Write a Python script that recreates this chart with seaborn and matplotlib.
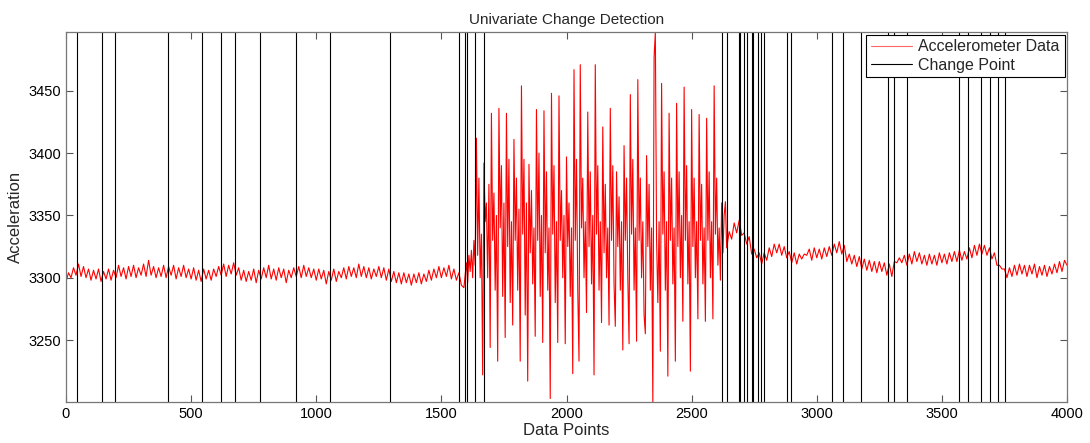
import numpy as np
import matplotlib
matplotlib.use("Agg")
import matplotlib.pyplot as plt
import seaborn as sns

# ---- data ----
# quiet segment, samples 0..1590 every 10
seg_a = [
    3297, 3304, 3300, 3308, 3302, 3311, 3301, 3309, 3300, 3307,
    3298, 3306, 3299, 3307, 3297, 3305, 3299, 3307, 3298, 3306,
    3300, 3310, 3301, 3308, 3299, 3309, 3301, 3310, 3300, 3308,
    3302, 3311, 3301, 3314, 3302, 3309, 3300, 3308, 3301, 3310,
    3300, 3309, 3302, 3310, 3299, 3308, 3301, 3310, 3300, 3307,
    3299, 3308, 3298, 3306, 3297, 3307, 3299, 3306, 3298, 3307,
    3301, 3309, 3302, 3311, 3301, 3310, 3303, 3312, 3302, 3308,
    3298, 3306, 3297, 3305, 3298, 3307, 3296, 3306, 3299, 3308,
    3300, 3310, 3299, 3307, 3298, 3308, 3300, 3307, 3296, 3306,
    3300, 3308, 3301, 3309, 3300, 3310, 3301, 3308, 3300, 3307,
    3298, 3307, 3299, 3306, 3295, 3305, 3298, 3307, 3297, 3305,
    3300, 3308, 3299, 3309, 3301, 3308, 3300, 3311, 3301, 3309,
    3300, 3308, 3299, 3307, 3301, 3309, 3300, 3308, 3298, 3307,
    3297, 3305, 3296, 3304, 3295, 3304, 3296, 3303, 3294, 3303,
    3296, 3304, 3295, 3303, 3297, 3306, 3298, 3307, 3300, 3309,
    3300, 3308, 3301, 3310, 3299, 3307, 3298, 3304, 3294, 3292,
]
# oscillating segment, samples 1600..2635 every 5
seg_b = [
    3312, 3296, 3318, 3305, 3322, 3300, 3330, 3310, 3412, 3318,
    3380, 3300, 3335, 3222, 3392, 3345, 3360, 3300, 3375, 3244,
    3432, 3330, 3368, 3290, 3350, 3233, 3436, 3340, 3390, 3285,
    3360, 3252, 3432, 3325, 3395, 3280, 3345, 3262, 3411, 3330,
    3380, 3290, 3355, 3233, 3454, 3335, 3395, 3270, 3360, 3217,
    3391, 3320, 3370, 3295, 3340, 3253, 3435, 3330, 3400, 3285,
    3350, 3248, 3434, 3320, 3385, 3290, 3340, 3203, 3448, 3335,
    3390, 3280, 3345, 3248, 3446, 3330, 3370, 3300, 3350, 3247,
    3397, 3325, 3360, 3285, 3340, 3223, 3467, 3330, 3395, 3290,
    3233, 3471, 3340, 3380, 3300, 3345, 3272, 3433, 3325, 3385,
    3295, 3350, 3222, 3471, 3335, 3390, 3290, 3345, 3264, 3421,
    3320, 3375, 3300, 3340, 3262, 3436, 3330, 3390, 3295, 3261,
    3385, 3325, 3365, 3290, 3345, 3242, 3406, 3330, 3380, 3300,
    3247, 3447, 3335, 3395, 3290, 3340, 3249, 3459, 3330, 3380,
    3300, 3345, 3270, 3255, 3398, 3325, 3375, 3290, 3340, 3200,
    3477, 3497, 3330, 3280, 3345, 3241, 3456, 3335, 3385, 3290,
    3345, 3221, 3432, 3330, 3380, 3295, 3340, 3233, 3440, 3325,
    3385, 3300, 3350, 3265, 3453, 3330, 3390, 3295, 3345, 3225,
    3435, 3325, 3380, 3300, 3345, 3267, 3431, 3330, 3375, 3295,
    3340, 3265, 3428, 3330, 3385, 3300, 3345, 3267, 3454, 3335,
    3380, 3310, 3340, 3298, 3360, 3320, 3350, 3361,
]
# settling segment, samples 2640..4000 every 10
seg_c = [
    3324, 3337, 3331, 3344, 3336, 3346, 3334, 3336, 3327, 3333,
    3319, 3323, 3316, 3320, 3311, 3320, 3314, 3324, 3317, 3327,
    3320, 3327, 3318, 3325, 3316, 3321, 3312, 3320, 3311, 3319,
    3315, 3319, 3318, 3323, 3314, 3324, 3316, 3323, 3315, 3324,
    3317, 3325, 3318, 3327, 3320, 3329, 3319, 3326, 3313, 3319,
    3311, 3318, 3309, 3317, 3307, 3315, 3306, 3314, 3305, 3313,
    3304, 3313, 3305, 3312, 3302, 3311, 3301, 3313, 3312, 3316,
    3312, 3318, 3310, 3319, 3311, 3321, 3313, 3320, 3311, 3318,
    3310, 3319, 3311, 3318, 3310, 3320, 3312, 3319, 3311, 3320,
    3313, 3321, 3313, 3322, 3314, 3321, 3315, 3324, 3316, 3326,
    3318, 3327, 3319, 3326, 3318, 3324, 3315, 3320, 3310, 3310,
    3307, 3307, 3300, 3308, 3301, 3310, 3302, 3311, 3303, 3310,
    3301, 3310, 3303, 3311, 3300, 3309, 3302, 3310, 3301, 3309,
    3303, 3311, 3304, 3313, 3305, 3314, 3310,
]
change_points = [42, 143, 196, 408, 544, 618, 676, 777, 919, 1054, 1294,
                 1571, 1593, 1602, 1633, 1670, 2623, 2641, 2688, 2692, 2708,
                 2720, 2740, 2745, 2765, 2779, 2791, 2882, 2896, 3060, 3105,
                 3178, 3283, 3310, 3362, 3568, 3604, 3656, 3691, 3724, 3752]
x_ticks = [0, 500, 1000, 1500, 2000, 2500, 3000, 3500, 4000]
y_ticks = [3250, 3300, 3350, 3400, 3450]

idx = np.concatenate([np.arange(0, 1600, 10), np.arange(1600, 2640, 5),
                      np.arange(2640, 4001, 10)])
vals = np.array(seg_a + seg_b + seg_c, dtype=float)

sns.set_style("white")
plt.rcParams['font.family'] = ['Liberation Sans', 'DejaVu Sans']

fig = plt.figure(figsize=(10.9, 4.43), dpi=100)
ax = fig.add_axes([66 / 1090, 1 - 402.3 / 443, (1067 - 66) / 1090, (402.3 - 32.3) / 443])

sns.lineplot(x=idx, y=vals, color='red', linewidth=0.8, ax=ax,
             label='Accelerometer Data', legend=False)
for i, cp in enumerate(change_points):
    ax.axvline(cp, color='black', linewidth=0.8,
               label='Change Point' if i == 0 else None)

ax.set_xlim(0, 4000)
ax.set_ylim(3200, 3497)
ax.set_xticks(x_ticks)
ax.set_yticks(y_ticks)
ax.tick_params(direction='in', length=5, width=0.8, colors='#555555',
               labelcolor='black', labelsize=10.5, top=True, right=True,
               bottom=True, left=True)
for s in ax.spines.values():
    s.set_color('#777777')
    s.set_linewidth(0.9)

ax.set_title('Univariate Change Detection', fontsize=11, pad=6)
ax.set_xlabel('Data Points', fontsize=12, labelpad=1)
ax.set_ylabel('Acceleration', fontsize=12, labelpad=4)

leg = ax.legend(loc='upper right', fontsize=11.5, frameon=True, fancybox=False,
                framealpha=1, edgecolor='black', borderaxespad=0.15,
                handlelength=2.6, borderpad=0.3, labelspacing=0.2,
                handletextpad=0.4)
leg.get_frame().set_linewidth(0.8)
for line in leg.get_lines():
    line.set_linewidth(0.8)
leg.get_lines()[0].set_alpha(0.6)

fig.savefig('out.png', dpi=100)
